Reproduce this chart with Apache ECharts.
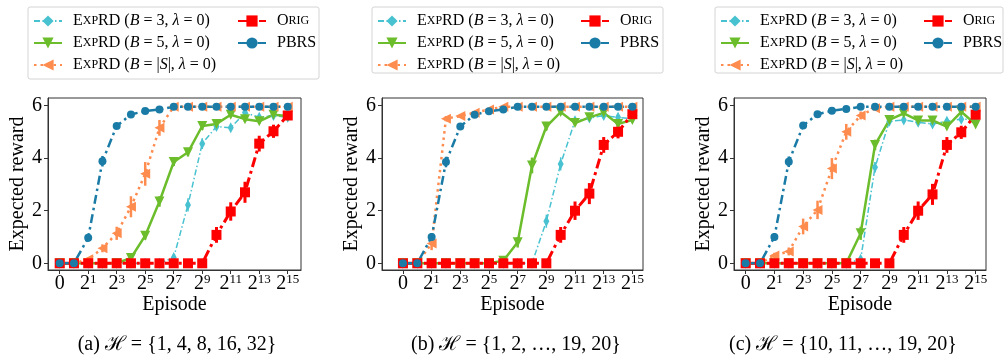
<!DOCTYPE html>
<html>
<head>
<meta charset="utf-8">
<script src="https://cdn.jsdelivr.net/npm/echarts@6.0.0/dist/echarts.min.js"></script>
<style>
  html, body { margin: 0; padding: 0; background: #fff; }
  #chart { width: 1005px; height: 362px; }
</style>
</head>
<body>
<div id="chart"></div>
<script>
// x positions: 0 -> no episodes, k -> 2^(k-1) episodes
const steps = [0, 1, 2, 3, 4, 5, 6, 7, 8, 9, 10, 11, 12, 13, 14, 15, 16];
const xTicks = [0, 2, 4, 6, 8, 10, 12, 14, 16];
const xTickExponents = [null, 1, 3, 5, 7, 9, 11, 13, 15];
const yTicks = [0, 2, 4, 6];
const captions = [
  '(a) ℋ = {1, 4, 8, 16, 32}',
  '(b) ℋ = {1, 2, …, 19, 20}',
  '(c) ℋ = {10, 11, …, 19, 20}'
];

// (a) H = {1,4,8,16,32}
const b3A   = [0, 0, 0, 0, 0, 0, 0, 0, 0.22, 2.22, 4.55, 5.2, 5.15, 5.73, 5.55, 5.62, 5.55];
const b5A   = [0, 0, 0, 0, 0, 0.2, 1.05, 2.35, 3.85, 4.22, 5.22, 5.3, 5.65, 5.48, 5.4, 5.65, 5.6];
const bsA   = [0, 0, 0.15, 0.57, 1.14, 2.15, 3.4, 5.15, 5.95, 5.95, 5.95, 5.95, 5.95, 5.95, 5.95, 5.95, 5.95];
const origA = [0, 0, 0, 0, 0, 0, 0, 0, 0, 0, 0, 1.08, 1.97, 2.7, 4.55, 5.02, 5.62];
const pbrsA = [0, 0, 0.97, 3.88, 5.22, 5.66, 5.79, 5.85, 5.95, 5.95, 5.95, 5.95, 5.95, 5.95, 5.95, 5.95, 5.95];
const b3ErrA   = [0, 0, 0, 0, 0, 0, 0, 0, 0.1, 0.25, 0.2, 0.1, 0.1, 0.1, 0.1, 0.1, 0.05];
const b5ErrA   = [0, 0, 0, 0, 0, 0.1, 0.15, 0.2, 0.15, 0.15, 0.15, 0.1, 0.1, 0.1, 0.1, 0.1, 0.05];
const bsErrA   = [0, 0, 0.08, 0.15, 0.25, 0.4, 0.45, 0.3, 0, 0, 0, 0, 0, 0, 0, 0, 0];
const origErrA = [0, 0, 0, 0, 0, 0, 0, 0, 0, 0, 0, 0.3, 0.35, 0.4, 0.3, 0.25, 0.1];
const pbrsErrA = [0, 0, 0.15, 0.2, 0.1, 0.05, 0, 0, 0, 0, 0, 0, 0, 0, 0, 0, 0];

// (b) H = {1,2,...,19,20}
const b3B   = [0, 0, 0, 0, 0, 0, 0, 0, 0, 0, 1.6, 3.78, 5.42, 5.52, 5.62, 5.55, 5.5];
const b5B   = [0, 0, 0, 0, 0, 0, 0, 0.1, 0.8, 3.72, 5.2, 5.75, 5.33, 5.55, 5.72, 5.3, 5.45];
const bsB   = [0, 0, 0.75, 5.5, 5.6, 5.72, 5.85, 5.95, 5.95, 5.95, 5.95, 5.95, 5.95, 5.95, 5.95, 5.95, 5.95];
const origB = [0, 0, 0, 0, 0, 0, 0, 0, 0, 0, 0, 1.08, 2.0, 2.65, 4.5, 5.0, 5.67];
const pbrsB = [0, 0, 1.0, 3.85, 5.2, 5.65, 5.78, 5.85, 5.95, 5.95, 5.95, 5.95, 5.95, 5.95, 5.95, 5.95, 5.95];
const b3ErrB   = [0, 0, 0, 0, 0, 0, 0, 0, 0, 0, 0.25, 0.25, 0.1, 0.1, 0.1, 0.1, 0.05];
const b5ErrB   = [0, 0, 0, 0, 0, 0, 0, 0.05, 0.2, 0.3, 0.15, 0.1, 0.1, 0.1, 0.1, 0.1, 0.05];
const bsErrB   = [0, 0, 0.25, 0.1, 0.05, 0, 0, 0, 0, 0, 0, 0, 0, 0, 0, 0, 0];
const origErrB = [0, 0, 0, 0, 0, 0, 0, 0, 0, 0, 0, 0.3, 0.35, 0.4, 0.3, 0.25, 0.1];
const pbrsErrB = [0, 0, 0.15, 0.2, 0.1, 0.05, 0, 0, 0, 0, 0, 0, 0, 0, 0, 0, 0];

// (c) H = {10,11,...,19,20}
const b3C   = [0, 0, 0, 0, 0, 0, 0, 0, 0.15, 3.65, 5.4, 5.45, 5.36, 5.3, 5.4, 5.48, 5.48];
const b5C   = [0, 0, 0, 0, 0, 0, 0, 0, 1.14, 4.5, 5.45, 5.7, 5.43, 5.43, 5.2, 5.76, 5.28];
const bsC   = [0, 0, 0.3, 0.45, 1.4, 2.03, 3.6, 5.0, 5.62, 5.9, 5.95, 5.95, 5.95, 5.95, 5.95, 5.95, 5.95];
const origC = [0, 0, 0, 0, 0, 0, 0, 0, 0, 0, 0, 1.08, 2.0, 2.62, 4.5, 4.98, 5.65];
const pbrsC = [0, 0, 1.0, 3.86, 5.24, 5.67, 5.8, 5.87, 5.95, 5.95, 5.95, 5.95, 5.95, 5.95, 5.95, 5.95, 5.95];
const b3ErrC   = [0, 0, 0, 0, 0, 0, 0, 0, 0.1, 0.2, 0.1, 0.1, 0.1, 0.1, 0.1, 0.1, 0.05];
const b5ErrC   = [0, 0, 0, 0, 0, 0, 0, 0, 0.25, 0.2, 0.1, 0.1, 0.1, 0.1, 0.1, 0.1, 0.05];
const bsErrC   = [0, 0, 0.1, 0.15, 0.3, 0.35, 0.4, 0.3, 0.15, 0, 0, 0, 0, 0, 0, 0, 0];
const origErrC = [0, 0, 0, 0, 0, 0, 0, 0, 0, 0, 0, 0.3, 0.35, 0.4, 0.3, 0.25, 0.1];
const pbrsErrC = [0, 0, 0.15, 0.2, 0.1, 0.05, 0, 0, 0, 0, 0, 0, 0, 0, 0, 0, 0];

const panelValues = [
  { b3: b3A, b5: b5A, bs: bsA, orig: origA, pbrs: pbrsA },
  { b3: b3B, b5: b5B, bs: bsB, orig: origB, pbrs: pbrsB },
  { b3: b3C, b5: b5C, bs: bsC, orig: origC, pbrs: pbrsC }
];
const panelErrors = [
  { b3: b3ErrA, b5: b5ErrA, bs: bsErrA, orig: origErrA, pbrs: pbrsErrA },
  { b3: b3ErrB, b5: b5ErrB, bs: bsErrB, orig: origErrB, pbrs: pbrsErrB },
  { b3: b3ErrC, b5: b5ErrC, bs: bsErrC, orig: origErrC, pbrs: pbrsErrC }
];

const FONT = '"Liberation Serif", "DejaVu Serif", serif';
const seriesKeys = ['b3', 'b5', 'bs', 'orig', 'pbrs'];

const styles = {
  b3:   { color: '#48c2d0', width: 1.5, type: [6, 2.5, 1.5, 2.5], symbol: 'diamond', size: [6, 11], rotate: 0, err: 1.5 },
  b5:   { color: '#6cbd2c', width: 2.5, type: 'solid', symbol: 'triangle', size: 10, rotate: 180, err: 2.5 },
  bs:   { color: '#ff8c4f', width: 2.5, type: [2.5, 4], symbol: 'triangle', size: 10, rotate: 90, err: 2.5 },
  orig: { color: '#ff0000', width: 3, type: [10, 4, 3, 4], symbol: 'rect', size: 10, rotate: 0, err: 3 },
  pbrs: { color: '#1a7ca6', width: 2.5, type: [9, 4, 2.5, 4], symbol: 'circle', size: 8, rotate: 0, err: 2.5 }
};

const legendLabels = {
  b3: '{g| }{sc|E}{ss|XP}{sc|RD} ({it|B} = 3, {it|λ} = 0)',
  b5: '{g| }{sc|E}{ss|XP}{sc|RD} ({it|B} = 5, {it|λ} = 0)',
  bs: '{g| }{sc|E}{ss|XP}{sc|RD} ({it|B} = |{it|S}|, {it|λ} = 0)',
  orig: '{g| }{sc|O}{ss|RIG}',
  pbrs: '{g| }PBRS'
};

// layout of the three panels, in pixels
const panels = [
  { left: 48,  width: 253, xMin: -0.82, xMax: 16.93, box: [28, 7, 291, 72],  col1: 33,  col2: 237, cap: 177 },
  { left: 382, width: 261, xMin: -1.46, xMax: 16.74, box: [372, 7, 291, 66], col1: 377, col2: 580, cap: 516 },
  { left: 734, width: 252, xMin: -0.81, xMax: 16.72, box: [715, 7, 288, 66], col1: 720, col2: 923, cap: 843 }
];
const gridTop = 98, gridHeight = 172;
const yMin = -0.255, yMax = 6.285;

const axisColor = '#333';

const legendText = {
  fontFamily: FONT, fontSize: 16, color: '#000', lineHeight: 14,
  rich: {
    g: { width: 6 },
    sc: { fontFamily: FONT, fontSize: 16, color: '#000' },
    ss: { fontFamily: FONT, fontSize: 12, color: '#000' },
    it: { fontFamily: FONT, fontSize: 16, fontStyle: 'italic', color: '#000' }
  }
};

const grids = [], xAxes = [], yAxes = [], series = [], legends = [], graphics = [];

panels.forEach((p, pi) => {
  grids.push({ left: p.left, top: gridTop, width: p.width, height: gridHeight,
    show: true, borderColor: axisColor, borderWidth: 1, backgroundColor: 'transparent' });

  xAxes.push({
    type: 'value', gridIndex: pi, min: p.xMin, max: p.xMax,
    name: 'Episode', nameLocation: 'middle', nameGap: 23,
    nameTextStyle: { fontFamily: FONT, fontSize: 20, color: '#000' },
    axisLine: { show: true, onZero: false, lineStyle: { color: axisColor, width: 1 } },
    axisTick: { show: true, inside: false, length: 4, customValues: xTicks, lineStyle: { color: axisColor } },
    axisLabel: {
      customValues: xTicks, margin: 3, color: '#000',
      formatter: (v) => {
        const e = xTickExponents[xTicks.indexOf(v)];
        return e == null ? '{b|0}' : '{b|2}{s|' + e + '}';
      },
      rich: {
        b: { fontFamily: FONT, fontSize: 20, lineHeight: 22, color: '#000' },
        s: { fontFamily: FONT, fontSize: 13, verticalAlign: 'top', color: '#000' }
      }
    },
    splitLine: { show: false }
  });

  yAxes.push({
    type: 'value', gridIndex: pi, min: yMin, max: yMax,
    name: 'Expected reward', nameLocation: 'middle', nameGap: 20,
    nameTextStyle: { fontFamily: FONT, fontSize: 20, color: '#000' },
    axisLine: { show: true, onZero: false, lineStyle: { color: axisColor, width: 1 } },
    axisTick: { show: true, inside: false, length: 4, customValues: yTicks, lineStyle: { color: axisColor } },
    axisLabel: { customValues: yTicks, margin: 6, fontFamily: FONT, fontSize: 20, color: '#000' },
    splitLine: { show: false }
  });

  seriesKeys.forEach((k) => {
    const s = styles[k];
    const vals = panelValues[pi][k];
    const errs = panelErrors[pi][k];
    series.push({
      name: k, type: 'line', xAxisIndex: pi, yAxisIndex: pi,
      data: steps.map((x, i) => [x, vals[i]]),
      symbol: s.symbol, symbolSize: s.size, symbolRotate: s.rotate, showSymbol: true,
      itemStyle: { color: s.color },
      lineStyle: { color: s.color, width: s.width, type: s.type },
      animation: false, silent: true
    });
    series.push({
      name: k + '-err', type: 'custom', xAxisIndex: pi, yAxisIndex: pi,
      data: steps.filter((x, i) => errs[i] > 0).map((x) => [x, vals[x] - errs[x], vals[x] + errs[x]]),
      encode: { x: 0, y: [1, 2] },
      renderItem: (params, api) => {
        const lo = api.coord([api.value(0), api.value(1)]);
        const hi = api.coord([api.value(0), api.value(2)]);
        return {
          type: 'line',
          shape: { x1: lo[0], y1: lo[1], x2: hi[0], y2: hi[1] },
          style: { stroke: s.color, lineWidth: s.err }
        };
      },
      animation: false, silent: true
    });
  });

  const legendBase = {
    orient: 'vertical', top: 13, padding: 0, itemWidth: 28, itemHeight: 14, itemGap: 6,
    formatter: (name) => legendLabels[name], textStyle: legendText,
    selectedMode: false
  };
  legends.push(Object.assign({}, legendBase, { left: p.col1, data: ['b3', 'b5', 'bs'] }));
  legends.push(Object.assign({}, legendBase, { left: p.col2, data: ['orig', 'pbrs'] }));

  graphics.push({
    type: 'rect', z: -1,
    shape: { x: p.box[0], y: p.box[1], width: p.box[2], height: p.box[3], r: 2 },
    style: { fill: 'rgba(255,255,255,0.8)', stroke: '#d4d4d4', lineWidth: 1 }
  });
  graphics.push({
    type: 'text', x: p.cap, y: 345,
    style: { text: captions[pi], font: '20px ' + FONT, fill: '#000', align: 'center', verticalAlign: 'middle' }
  });
});

const chart = echarts.init(document.getElementById('chart'), null, { renderer: 'canvas' });
chart.setOption({
  animation: false,
  backgroundColor: '#fff',
  grid: grids,
  xAxis: xAxes,
  yAxis: yAxes,
  legend: legends,
  graphic: graphics,
  series: series
});
</script>
</body>
</html>
